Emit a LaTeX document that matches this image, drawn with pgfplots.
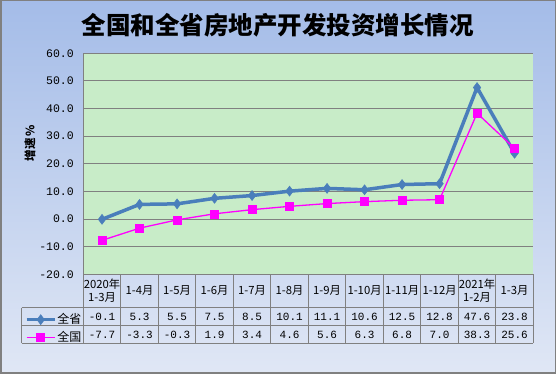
\documentclass[border=0pt]{standalone}
\usepackage{graphicx}
\usepackage{pgfplots}
\pgfplotsset{compat=1.18}
\usepackage{fontspec}
\newfontfamily\cjk{Noto Sans CJK SC}
\newfontfamily\mono{Liberation Mono}
\definecolor{bgtop}{RGB}{164,188,232}
\definecolor{bgbot}{RGB}{224,231,245}
\definecolor{plotbg}{RGB}{200,236,200}
\definecolor{sheng}{RGB}{74,126,187}
\definecolor{guo}{RGB}{255,0,255}
\definecolor{gridc}{RGB}{128,128,128}
\begin{document}
\begin{tikzpicture}
\useasboundingbox (0,0) rectangle (556pt,374pt);
\shade[top color=bgtop, bottom color=bgbot] (0,0) rectangle (556pt,374pt);
\node[font=\cjk\bfseries\fontsize{24.5}{28}\selectfont] at (277.5pt,348.3pt) {全国和全省房地产开发投资增长情况};
\node[font=\cjk\bfseries\fontsize{11.5}{11}\selectfont, inner sep=0pt, align=center] at (30pt,230.5pt)
  {\rotatebox{90}{\%}\\\rotatebox{90}{速}\\\rotatebox{90}{增}};
\begin{axis}[
  at={(83.3pt,99.7pt)}, anchor=south west,
  scale only axis, width=450pt, height=221pt,
  xmin=0, xmax=12, ymin=-20, ymax=60,
  axis background/.style={fill=plotbg},
  axis x line*=bottom, axis y line*=left,
  axis line style={draw=gridc, line width=0.9pt},
  ytick={-20,-10,...,60},
  ymajorgrids, grid style={draw=gridc, line width=0.9pt},
  major tick length=0pt,
  xtick={0.5,1.5,...,11.5},
  xticklabels={{2020年\\1-3月},1-4月,1-5月,1-6月,1-7月,1-8月,1-9月,1-10月,1-11月,1-12月,{2021年\\1-2月},1-3月},
  xticklabel style={anchor=center, yshift=-16.7pt, align=center, inner sep=0pt, font=\cjk\fontsize{11.3}{13}\selectfont},
  yticklabel style={anchor=east, inner sep=0pt, xshift=-9.3pt, font=\mono\fontsize{11.5}{12}\selectfont},
  /pgf/number format/assume math mode=true,
  yticklabel={\pgfmathprintnumber[fixed,fixed zerofill,precision=1]{\tick}},
  clip=false,
  legend style={at={(axis description cs:-0.1296,-0.165)}, anchor=north west, draw=none, fill=none,
    inner sep=0pt, outer sep=0pt, row sep=0pt, column sep=1pt,
    font=\cjk\fontsize{12}{12}\selectfont,
    nodes={inner sep=0pt, text height=13pt, text depth=4.8pt, anchor=base west}},
  legend cell align=left,
  legend image code/.code={\draw[mark repeat=2,mark phase=2,#1] plot coordinates {(0pt,4.1pt) (14pt,4.1pt) (28pt,4.1pt)};},
]
\addplot[sheng, line width=3.5pt, mark=diamond*, mark size=5pt, mark options={line width=0.5pt, fill=sheng}]
  coordinates {(0.5,-0.1) (1.5,5.3) (2.5,5.5) (3.5,7.5) (4.5,8.5) (5.5,10.1) (6.5,11.1) (7.5,10.6) (8.5,12.5) (9.5,12.8) (10.5,47.6) (11.5,23.8)};
\addlegendentry{全省}
\addplot[guo, line width=1.3pt, mark=square*, mark size=4pt, mark options={line width=0.5pt, fill=guo}]
  coordinates {(0.5,-7.7) (1.5,-3.3) (2.5,-0.3) (3.5,1.9) (4.5,3.4) (5.5,4.6) (6.5,5.6) (7.5,6.3) (8.5,6.8) (9.5,7.0) (10.5,38.3) (11.5,25.6)};
\addlegendentry{全国}
\end{axis}
% table grid
\begin{scope}[draw=gridc, line width=0.9pt]
\draw (83.3pt,99.7pt) -- (533.3pt,99.7pt);
\foreach \y in {66.3,48.3,30.7} \draw (21.7pt,\y pt) -- (533.3pt,\y pt);
\draw (21.7pt,66.3pt) -- (21.7pt,30.7pt);
\foreach \i in {0,...,12} \draw ({83.3pt+37.5pt*\i},99.7pt) -- ({83.3pt+37.5pt*\i},30.7pt);
\end{scope}
\foreach \v [count=\i from 0] in {-0.1,5.3,5.5,7.5,8.5,10.1,11.1,10.6,12.5,12.8,47.6,23.8}
  \node[font=\mono\fontsize{11}{11}\selectfont, inner sep=0pt] at ({102.05pt+37.5pt*\i},57.3pt) {\v};
\foreach \v [count=\i from 0] in {-7.7,-3.3,-0.3,1.9,3.4,4.6,5.6,6.3,6.8,7.0,38.3,25.6}
  \node[font=\mono\fontsize{11}{11}\selectfont, inner sep=0pt] at ({102.05pt+37.5pt*\i},39.5pt) {\v};
\draw[gridc, line width=1.5pt] (0.75pt,0.75pt) rectangle (555.25pt,373.25pt);
\end{tikzpicture}
\end{document}
